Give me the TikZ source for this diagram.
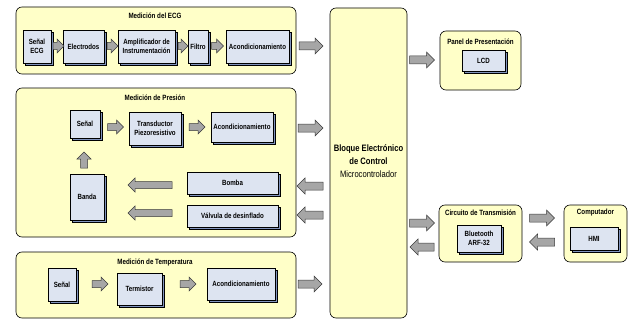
\documentclass[tikz,border=0pt]{standalone}
\usepackage{fontspec}
\setmainfont[FakeStretch=0.82]{Liberation Sans}
\usetikzlibrary{shadows}
\definecolor{contc}{HTML}{FFFFC8}
\definecolor{boxc}{HTML}{DDE4F1}
\definecolor{shadc}{HTML}{8194BE}
\definecolor{arrc}{HTML}{A6A6A6}
\definecolor{arrd}{HTML}{3A3A3A}
% #1 x, #2 y, #3 length, #4 angle, #5 shaft half width, #6 head half width
\newcommand{\blockarrow}[6]{%
  \begin{scope}[shift={(#1,#2)}, rotate=#4]
    \draw[arrsty] ({-#3/2},{-#5}) -- ({#3/2-#6},{-#5}) -- ({#3/2-#6},{-#6}) --
      ({#3/2},0) -- ({#3/2-#6},{#6}) -- ({#3/2-#6},{#5}) -- ({-#3/2},{#5}) -- cycle;
  \end{scope}}
\begin{document}
\begin{tikzpicture}[x=1pt,y=-1pt,
  cont/.style={draw=black, fill=contc, rounded corners=6pt, line width=0.6pt, inner sep=0pt},
  ttl/.style={font=\fontsize{7.6}{8}\selectfont\bfseries, inner sep=0pt},
  blk/.style={draw=black, fill=boxc, line width=0.4pt, inner sep=0pt, align=center,
    font=\fontsize{7.5}{9.5}\selectfont\bfseries,
    copy shadow={shadow xshift=2.5pt, shadow yshift=-2.5pt, fill=shadc, draw=black, line width=0.4pt}},
  arrsty/.style={draw=arrd, fill=arrc, line width=0.5pt, line join=miter}
]
\useasboundingbox (0,0) rectangle (629,321);

% containers
\node[cont, minimum width=280pt, minimum height=67pt] (ecg) at (156,40.5) {};
\node[cont, minimum width=280pt, minimum height=149pt] (pres) at (156,162.5) {};
\node[cont, minimum width=280pt, minimum height=66pt] (temp) at (156,285) {};
\node[cont, minimum width=77pt, minimum height=310pt] (bloque) at (368.5,163) {};
\node[cont, minimum width=81pt, minimum height=59pt] (panel) at (480.5,60.5) {};
\node[cont, minimum width=83pt, minimum height=57pt] (circ) at (480.5,233.5) {};
\node[cont, minimum width=63pt, minimum height=57pt] (comp) at (595.5,233.5) {};

% titles
\node[ttl] (tecg) at (155,16) {Medición del ECG};
\node[ttl] (tpres) at (155,98) {Medición de Presión};
\node[ttl] (ttemp) at (155,262) {Medición de Temperatura};
\node[ttl] (tpanel) at (480.5,42) {Panel de Presentación};
\node[ttl] (tcirc) at (480.5,213) {Circuito de Transmisión};
\node[ttl] (tcomp) at (595.5,213) {Computador};

\node[align=center, inner sep=0pt, font=\fontsize{9.3}{13}\selectfont] (tbloque) at (368.5,161)
  {\bfseries Bloque Electrónico\\\bfseries de Control\\Microcontrolador};

% ECG boxes
\node[blk, minimum width=28pt, minimum height=33pt] (senalecg) at (37,46.5) {Señal\\ECG};
\node[blk, minimum width=41pt, minimum height=33pt] (electrodos) at (83.5,46.5) {Electrodos};
\node[blk, minimum width=57pt, minimum height=33pt] (amplif) at (146.5,46.5) {Amplificador de\\Instrumentación};
\node[blk, minimum width=20pt, minimum height=33pt] (filtro) at (198,46.5) {Filtro};
\node[blk, minimum width=63pt, minimum height=33pt] (acond1) at (257.5,46.5) {Acondicionamiento};

% Pressure boxes
\node[blk, minimum width=30pt, minimum height=28pt] (senal2) at (85,124) {Señal};
\node[blk, minimum width=52pt, minimum height=33pt] (transd) at (155,128.5) {Transductor\\Piezoresistivo};
\node[blk, minimum width=62pt, minimum height=30pt] (acond2) at (242,127) {Acondicionamiento};
\node[blk, minimum width=34pt, minimum height=46pt] (banda) at (87,197) {Banda};
\node[blk, minimum width=91pt, minimum height=22pt] (bomba) at (232.5,183) {Bomba};
\node[blk, minimum width=91pt, minimum height=22pt] (valvula) at (232.5,216) {Válvula de desinflado};

% Temperature boxes
\node[blk, minimum width=28pt, minimum height=33pt] (senal3) at (62,284.5) {Señal};
\node[blk, minimum width=45pt, minimum height=32pt] (termistor) at (139.5,289) {Termistor};
\node[blk, minimum width=68pt, minimum height=32pt] (acond3) at (241,284) {Acondicionamiento};

% Right side boxes
\node[blk, minimum width=43pt, minimum height=21pt] (lcd) at (483.5,60.5) {LCD};
\node[blk, minimum width=44pt, minimum height=27pt] (bt) at (479,238.5) {Bluetooth\\ARF-32};
\node[blk, minimum width=48pt, minimum height=23pt] (hmi) at (594,238.5) {HMI};

% ECG arrows
\blockarrow{58.5}{46}{11}{0}{3.5}{7}
\blockarrow{112.5}{46}{11}{0}{3.5}{7}
\blockarrow{183}{46}{10}{0}{3.5}{7}
\blockarrow{217.5}{46}{12}{0}{3.5}{7}
\blockarrow{311}{46}{24}{0}{4}{8}

% Pressure arrows
\blockarrow{115.5}{127}{16}{0}{3.5}{7}
\blockarrow{197}{127}{16}{0}{3.5}{7}
\blockarrow{84}{160}{16}{90}{3.5}{7}
\blockarrow{150}{185}{44}{180}{3.5}{7}
\blockarrow{150}{213}{44}{180}{3.5}{7}
\blockarrow{310.5}{128}{25}{0}{4}{8}
\blockarrow{310}{186}{26}{180}{4}{8}
\blockarrow{310}{215}{26}{180}{4}{8}

% Temperature arrows
\blockarrow{100}{284}{16}{0}{3.5}{7}
\blockarrow{188}{284}{16}{0}{3.5}{7}
\blockarrow{310}{284}{24}{0}{4}{8}

% Right side arrows
\blockarrow{422}{60}{25}{0}{4}{8}
\blockarrow{422}{223}{25}{0}{4}{8}
\blockarrow{422}{247}{24}{180}{4}{8}
\blockarrow{542}{218}{25}{0}{4}{8}
\blockarrow{542}{242}{25}{180}{4}{8}
\end{tikzpicture}
\end{document}
